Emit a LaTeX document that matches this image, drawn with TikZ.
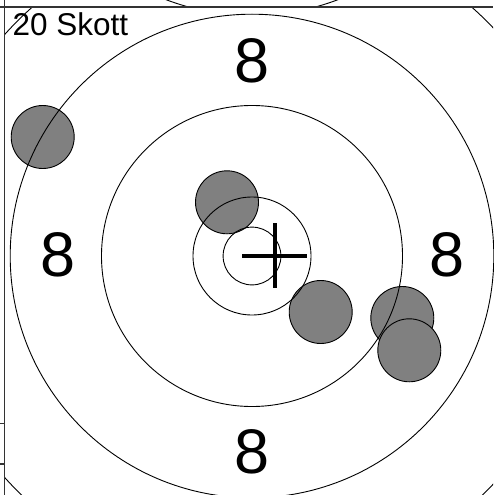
\documentclass[tikz,border=0pt]{standalone}
\usepackage{fontspec}
\setmainfont{Liberation Sans}
\begin{document}
\begin{tikzpicture}[x=1pt,y=-1pt,
  ring/.style={draw=black,line width=0.9pt},
  shot/.style={circle,draw=black,line width=0.9pt,fill=black!50,minimum size=63pt,inner sep=0pt},
  frameline/.style={draw=black!80,line width=1.6pt},
  crossline/.style={draw=black,line width=3.2pt},
  score/.style={font=\fontsize{63}{63}\selectfont,inner sep=0pt,anchor=base},
  title/.style={font=\fontsize{31.5}{31.5}\selectfont,inner sep=0pt,anchor=base west}]
\useasboundingbox (0,0) rectangle (493,495);
\coordinate (c) at (252,256);
% shots
\node[shot] (s1) at (42.7,137) {};
\node[shot] (s2) at (227,202.3) {};
\node[shot] (s3) at (320.7,312) {};
\node[shot] (s4) at (402.3,318) {};
\node[shot] (s5) at (409.3,350.3) {};
% rings
\draw[ring] (c) circle[radius=28.9];
\draw[ring] (c) circle[radius=59];
\draw[ring] (c) circle[radius=150.5];
\draw[ring] (c) circle[radius=241.8];
\begin{scope}
  \clip (5,7) rectangle (493,495);
  \draw[ring] (c) circle[radius=332];
\end{scope}
% neighbouring target above
\begin{scope}
  \clip (0,0) rectangle (493,7);
  \draw[ring] (252,-226.4) circle[radius=241.8];
\end{scope}
% frame
\coordinate (ftl) at (0,7);
\coordinate (ftr) at (493,7);
\coordinate (flt) at (4.5,0);
\coordinate (flb) at (4.5,495);
\draw[frameline] (ftl) -- (ftr);
\draw[frameline] (flt) -- (flb);
\coordinate (t1a) at (0,423.3);
\coordinate (t1b) at (4.5,423.3);
\coordinate (t2a) at (0,464);
\coordinate (t2b) at (4.5,464);
\draw[frameline] (t1a) -- (t1b);
\draw[frameline] (t2a) -- (t2b);
% cross
\coordinate (hl) at (242.3,256);
\coordinate (hr) at (307,256);
\coordinate (vt) at (275,223.3);
\coordinate (vb) at (275,288.3);
\draw[crossline] (hl) -- (hr);
\draw[crossline] (vt) -- (vb);
% labels
\node[score] (n8t) at (251.7,82) {8};
\node[score] (n8b) at (251.7,473) {8};
\node[score] (n8l) at (58,276.7) {8};
\node[score] (n8r) at (447,276.7) {8};
\node[title] (ttl) at (12.5,36) {20 Skott};
\end{tikzpicture}
\end{document}
